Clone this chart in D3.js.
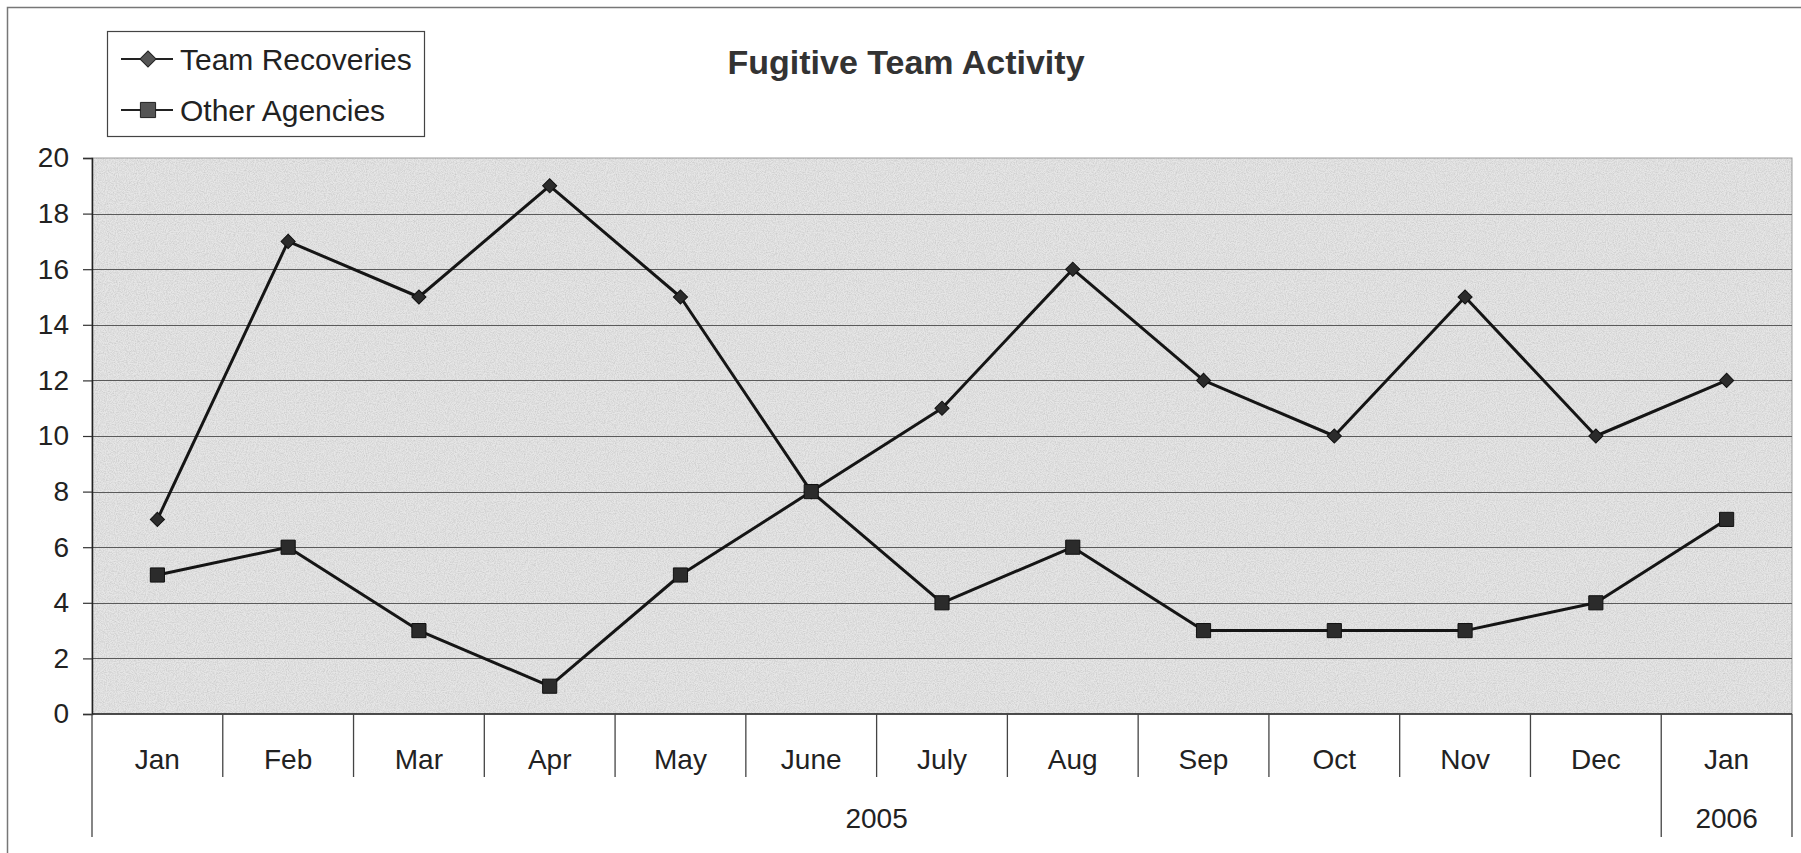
<!DOCTYPE html>
<html>
<head>
<meta charset="utf-8">
<script src="https://cdn.jsdelivr.net/npm/d3@7"></script>
<style>
  body { margin: 0; background: #fff; }
  svg { display: block; font-family: "Liberation Sans", Arial, sans-serif; }
</style>
</head>
<body>
<div id="chart"></div>
<script>
// data
var months = ["Jan", "Feb", "Mar", "Apr", "May", "June", "July", "Aug", "Sep", "Oct", "Nov", "Dec", "Jan"];
var years = [{ label: "2005", from: 0, to: 11 }, { label: "2006", from: 12, to: 12 }];
var teamRecoveries = [7, 17, 15, 19, 15, 8, 11, 16, 12, 10, 15, 10, 12];
var otherAgencies = [5, 6, 3, 1, 5, 8, 4, 6, 3, 3, 3, 4, 7];
var yTicks = [0, 2, 4, 6, 8, 10, 12, 14, 16, 18, 20];

var svgWidth = 1801;
var svgHeight = 853;

var margin = { top: 158, right: 9, bottom: 139, left: 92 };
var width = svgWidth - margin.left - margin.right;
var height = svgHeight - margin.top - margin.bottom;

var svg = d3.select("#chart")
    .append("svg")
    .attr("width", svgWidth)
    .attr("height", svgHeight);

// paper-like noise for the plot area
var defs = svg.append("defs");
var noise = defs.append("filter").attr("id", "grain")
    .attr("x", 0).attr("y", 0).attr("width", 1).attr("height", 1);
noise.append("feTurbulence")
    .attr("type", "fractalNoise")
    .attr("baseFrequency", 0.9)
    .attr("numOctaves", 2)
    .attr("seed", 4)
    .attr("result", "t");
noise.append("feColorMatrix")
    .attr("type", "matrix")
    .attr("values", "0 0 0 0 0  0 0 0 0 0  0 0 0 0 0  0 0 0 -1.6 1.05");

// page border (left + top, as on the scan)
svg.append("path")
    .attr("d", "M7.5," + svgHeight + " V7.5 H" + svgWidth)
    .attr("fill", "none")
    .attr("stroke", "#777")
    .attr("stroke-width", 1.5);

var chart = svg.append("g")
    .attr("transform", `translate(${margin.left}, ${margin.top})`);

var x = d3.scaleBand()
    .domain(d3.range(months.length))
    .range([0, width])
    .padding(0);

var y = d3.scaleLinear()
    .domain([0, 20])
    .range([height, 0]);

// plot background
chart.append("rect")
    .attr("width", width)
    .attr("height", height)
    .attr("fill", "#e6e6e6")
    .attr("stroke", "#a0a0a0")
    .attr("stroke-width", 1);
chart.append("rect")
    .attr("width", width)
    .attr("height", height)
    .attr("filter", "url(#grain)")
    .attr("opacity", 0.13);

// gridlines
chart.append("g")
    .selectAll("line")
    .data(yTicks.filter(function (d) { return d > 0 && d < 20; }))
    .enter().append("line")
    .attr("x1", 0)
    .attr("x2", width)
    .attr("y1", function (d) { return Math.round(y(d)) + 0.5; })
    .attr("y2", function (d) { return Math.round(y(d)) + 0.5; })
    .attr("stroke", "#5a5a5a")
    .attr("stroke-width", 1);

// y axis
var leftAxis = d3.axisLeft(y)
    .tickValues(yTicks)
    .tickSize(9)
    .tickPadding(14)
    .tickFormat(d3.format("d"));

var yAxis = chart.append("g").call(leftAxis);
yAxis.select(".domain").attr("stroke", "#222").attr("stroke-width", 1.5);
yAxis.selectAll(".tick line").attr("stroke", "#333").attr("stroke-width", 1.2);
yAxis.selectAll(".tick text")
    .attr("fill", "#222")
    .style("font-size", "28px");

// x axis: month labels and separators
var xAxisG = chart.append("g")
    .attr("transform", `translate(0, ${height})`);

xAxisG.append("line")
    .attr("x1", 0).attr("x2", width)
    .attr("y1", 0).attr("y2", 0)
    .attr("stroke", "#222")
    .attr("stroke-width", 1.5);

var boundaries = d3.range(months.length + 1);
xAxisG.selectAll(".sep")
    .data(boundaries)
    .enter().append("line")
    .attr("class", "sep")
    .attr("x1", function (i) { return i < months.length ? x(i) : width; })
    .attr("x2", function (i) { return i < months.length ? x(i) : width; })
    .attr("y1", 0)
    .attr("y2", function (i) {
        var isYearEdge = years.some(function (yr) { return yr.from === i || yr.to + 1 === i; });
        return isYearEdge ? 123 : 63;
    })
    .attr("stroke", "#444")
    .attr("stroke-width", 1.3);

xAxisG.selectAll(".month")
    .data(months)
    .enter().append("text")
    .attr("class", "month")
    .attr("x", function (d, i) { return x(i) + x.bandwidth() / 2; })
    .attr("y", 55)
    .attr("text-anchor", "middle")
    .attr("fill", "#222")
    .style("font-size", "28px")
    .text(function (d) { return d; });

xAxisG.selectAll(".year")
    .data(years)
    .enter().append("text")
    .attr("class", "year")
    .attr("x", function (d) { return (x(d.from) + x(d.to) + x.bandwidth()) / 2; })
    .attr("y", 114)
    .attr("text-anchor", "middle")
    .attr("fill", "#222")
    .style("font-size", "28px")
    .text(function (d) { return d.label; });

// lines
var line = d3.line()
    .x(function (d, i) { return x(i) + x.bandwidth() / 2; })
    .y(function (d) { return y(d); });

var series = [
    { name: "Team Recoveries", values: teamRecoveries, rotate: 45, size: 100 },
    { name: "Other Agencies", values: otherAgencies, rotate: 0, size: 200 }
];

series.forEach(function (s) {
    chart.append("path")
        .datum(s.values)
        .attr("fill", "none")
        .attr("stroke", "#151515")
        .attr("stroke-width", 3)
        .attr("stroke-linejoin", "round")
        .attr("d", line);

    chart.selectAll(null)
        .data(s.values)
        .enter().append("path")
        .attr("transform", function (d, i) {
            return `translate(${x(i) + x.bandwidth() / 2}, ${y(d)}) rotate(${s.rotate})`;
        })
        .attr("d", d3.symbol().type(d3.symbolSquare).size(s.size))
        .attr("fill", "#2b2b2b")
        .attr("stroke", "#111")
        .attr("stroke-width", 1);
});

// legend
var legend = svg.append("g").attr("transform", "translate(107, 31)");
legend.append("rect")
    .attr("x", 0.5).attr("y", 0.5)
    .attr("width", 317).attr("height", 105)
    .attr("fill", "#fff")
    .attr("stroke", "#444")
    .attr("stroke-width", 1.2);

var legendRows = legend.selectAll(".row")
    .data(series)
    .enter().append("g")
    .attr("class", "row")
    .attr("transform", function (d, i) { return `translate(0, ${28 + i * 51})`; });

legendRows.append("line")
    .attr("x1", 14).attr("x2", 66)
    .attr("stroke", "#222")
    .attr("stroke-width", 2);

legendRows.append("path")
    .attr("transform", function (d) { return `translate(41, 0) rotate(${d.rotate})`; })
    .attr("d", function (d) { return d3.symbol().type(d3.symbolSquare).size(d.size + 30)(); })
    .attr("fill", "#555")
    .attr("stroke", "#222");

legendRows.append("text")
    .attr("x", 73)
    .attr("dy", "0.35em")
    .attr("fill", "#222")
    .style("font-size", "30px")
    .text(function (d) { return d.name; });

// title
svg.append("text")
    .attr("x", 906)
    .attr("y", 74)
    .attr("text-anchor", "middle")
    .attr("fill", "#333")
    .style("font-size", "34px")
    .style("font-weight", "bold")
    .text("Fugitive Team Activity");
</script>
</body>
</html>
